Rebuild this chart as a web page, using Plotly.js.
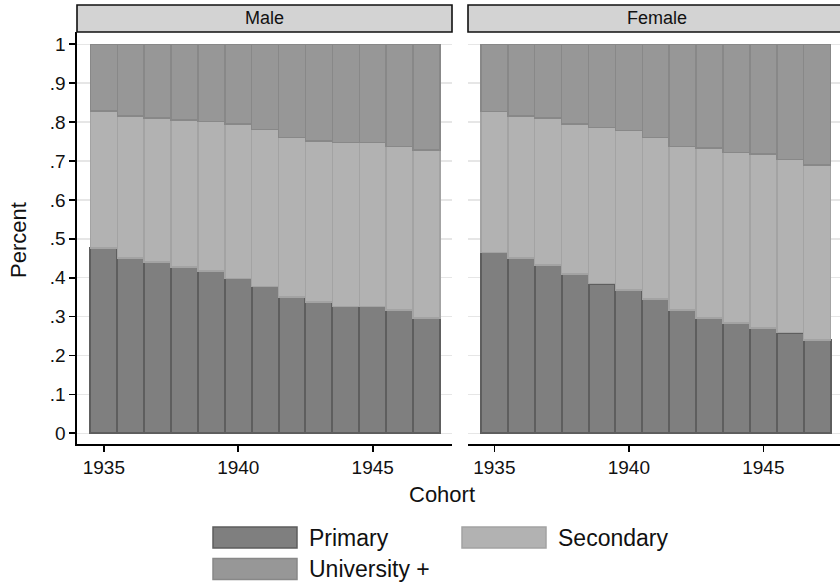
<!DOCTYPE html>
<html><head><meta charset="utf-8">
<script src="https://cdn.plot.ly/plotly-3.0.1.min.js"></script>
<style>body{margin:0;background:#fff;}#chart{width:840px;height:583px;}</style>
</head><body><div id="chart"></div>
<script>
// ---- data ----
const cohorts = [1935,1936,1937,1938,1939,1940,1941,1942,1943,1944,1945,1946,1947];
const panelNames = ['Male', 'Female'];
const seriesNames = ['Primary', 'Secondary', 'University +'];

const malePrimary    = [0.476,0.451,0.441,0.428,0.417,0.398,0.378,0.350,0.337,0.326,0.326,0.317,0.297];
const maleSecondary  = [0.353,0.365,0.370,0.377,0.384,0.397,0.403,0.411,0.414,0.422,0.422,0.420,0.431];
const maleUniversity = [0.171,0.184,0.189,0.195,0.199,0.205,0.219,0.239,0.249,0.252,0.252,0.263,0.272];

const femalePrimary    = [0.465,0.451,0.433,0.410,0.385,0.368,0.345,0.317,0.296,0.283,0.271,0.259,0.240];
const femaleSecondary  = [0.362,0.365,0.377,0.385,0.401,0.410,0.416,0.420,0.437,0.439,0.447,0.445,0.450];
const femaleUniversity = [0.173,0.184,0.190,0.205,0.214,0.222,0.239,0.263,0.267,0.278,0.282,0.296,0.310];

const yTickVals = [0,0.1,0.2,0.3,0.4,0.5,0.6,0.7,0.8,0.9,1];
const yTickText = ['0','.1','.2','.3','.4','.5','.6','.7','.8','.9','1'];
const xTickVals = [1935,1940,1945];
const xTickText = ['1935','1940','1945'];

// ---- styles ----
const W = 840, H = 583;
const FONT = 'Liberation Sans, Arial, sans-serif';
const fills = ['#7f7f7f', '#b2b2b2', '#979797'];
const edges = ['#5e5e5e', '#a3a3a3', '#888888'];
const edgeW = [2, 1.5, 1.5];

const px = x => x / W;
const py = y => 1 - y / H;

const panels = [
  {name: panelNames[0], data: [malePrimary, maleSecondary, maleUniversity], xa: 'x', ya: 'y'},
  {name: panelNames[1], data: [femalePrimary, femaleSecondary, femaleUniversity], xa: 'x2', ya: 'y2'}
];

const traces = [];
panels.forEach(p => {
  p.data.forEach((vals, i) => {
    traces.push({
      type: 'bar', x: cohorts, y: vals, name: seriesNames[i],
      xaxis: p.xa, yaxis: p.ya, showlegend: false, hoverinfo: 'skip',
      marker: {color: fills[i], line: {color: edges[i], width: edgeW[i]}}
    });
  });
});

const yDomain = [py(444), py(32)];
const yRange = [-0.0275, 1.0316];

const xCommon = {
  showline: true, linecolor: '#000', linewidth: 1.6, mirror: false,
  ticks: 'outside', ticklen: 6, tickwidth: 1.6, tickcolor: '#000',
  tickmode: 'array', tickvals: xTickVals, ticktext: xTickText,
  showgrid: false, zeroline: false,
  tickfont: {family: FONT, size: 19, color: '#111'}
};
const yCommon = {
  domain: yDomain, range: yRange, zeroline: false,
  tickmode: 'array', tickvals: yTickVals, ticktext: yTickText,
  showgrid: true, gridcolor: '#e6e6e6', gridwidth: 1.5,
  tickfont: {family: FONT, size: 19, color: '#111'}
};

const shapes = [];
const annotations = [];

// facet header strips
const headers = [[77, 452], [468, 846]];
headers.forEach((h, i) => {
  shapes.push({type: 'rect', xref: 'paper', yref: 'paper',
    x0: px(h[0]), x1: px(h[1]), y0: py(32), y1: py(5),
    fillcolor: '#d3d3d3', line: {color: '#111', width: 1.6}});
  annotations.push({xref: 'paper', yref: 'paper', x: px((h[0] + h[1]) / 2), y: py(18.5),
    text: panelNames[i], showarrow: false, xanchor: 'center', yanchor: 'middle',
    font: {family: FONT, size: 18, color: '#111'}});
});

// axis titles
annotations.push({xref: 'paper', yref: 'paper', x: px(18), y: py(240), text: 'Percent',
  textangle: -90, showarrow: false, xanchor: 'center', yanchor: 'middle',
  font: {family: FONT, size: 22, color: '#111'}});
annotations.push({xref: 'paper', yref: 'paper', x: px(442), y: py(494), text: 'Cohort',
  showarrow: false, xanchor: 'center', yanchor: 'middle',
  font: {family: FONT, size: 22, color: '#111'}});

// legend (drawn manually to match large key boxes)
const legendPos = [
  {bx: 213, ty: 537.5, tx: 307},
  {bx: 462, ty: 537.5, tx: 556},
  {bx: 213, ty: 569, tx: 307}
];
seriesNames.forEach((nm, i) => {
  const L = legendPos[i];
  shapes.push({type: 'rect', xref: 'paper', yref: 'paper',
    x0: px(L.bx), x1: px(L.bx + 84), y0: py(L.ty + 10.5), y1: py(L.ty - 10.5),
    fillcolor: fills[i], line: {color: edges[i], width: 1.5}});
  annotations.push({xref: 'paper', yref: 'paper', x: px(L.tx), y: py(L.ty), text: nm,
    showarrow: false, xanchor: 'left', yanchor: 'middle',
    font: {family: FONT, size: 23, color: '#111'}});
});

const layout = {
  width: W, height: H, autosize: false,
  margin: {l: 0, r: 0, t: 0, b: 0},
  paper_bgcolor: '#fff', plot_bgcolor: '#fff',
  barmode: 'stack', bargap: 0,
  showlegend: false,
  xaxis: Object.assign({}, xCommon, {domain: [px(77), px(452)], range: [1934.0, 1947.95], anchor: 'y'}),
  xaxis2: Object.assign({}, xCommon, {domain: [px(468), 1], range: [1934.02, 1947.85], anchor: 'y2'}),
  yaxis: Object.assign({}, yCommon, {anchor: 'x', showline: true, linecolor: '#000', linewidth: 1.6,
    ticks: 'outside', ticklen: 6, tickwidth: 1.6, tickcolor: '#000', showticklabels: true}),
  yaxis2: Object.assign({}, yCommon, {anchor: 'x2', showline: false, ticks: '', showticklabels: false}),
  shapes: shapes,
  annotations: annotations
};

Plotly.newPlot('chart', traces, layout, {displayModeBar: false, staticPlot: true});
</script>
</body></html>
